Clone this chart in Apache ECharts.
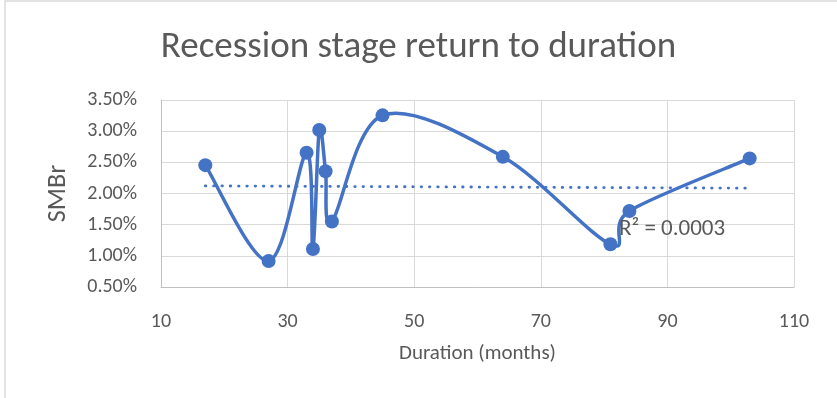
<!DOCTYPE html>
<html>
<head>
<meta charset="utf-8">
<script src="https://cdn.jsdelivr.net/npm/echarts@6/dist/echarts.min.js"></script>
<style>
  html, body { margin: 0; padding: 0; background: #ffffff; }
  #chart { width: 837px; height: 398px; }
</style>
</head>
<body>
<div id="chart"></div>
<script>
// Recession stages: length in months and SMBr return (percent)
const durationMonths = [17, 27, 33, 34, 35, 36, 37, 45, 64, 81, 84, 103];
const smbrReturn = [2.455, 0.916, 2.653, 1.11, 3.018, 2.358, 1.55, 3.254, 2.588, 1.185, 1.72, 2.563];

// Linear trendline end points (percent)
const trendMonths = [17, 103];
const trendReturn = [2.122, 2.085];

// Axis ranges and tick steps
const xRange = [10, 110];
const xStep = 20;
const yRange = [0.5, 3.5];
const yStep = 0.5;

const chartTitle = 'Recession stage return to duration';
const xAxisTitle = 'Duration (months)';
const yAxisTitle = 'SMBr';
const rSquaredLabel = 'R² = 0.0003';

const FONT = 'Carlito, Calibri, Lato, sans-serif';
const TEXT = '#595959';
const BLUE = '#4472C4';

// Cardinal (Catmull-Rom style) bezier through pixel points
function smoothPath(pts) {
  let d = 'M' + pts[0][0] + ',' + pts[0][1];
  for (let i = 0; i < pts.length - 1; i++) {
    const p0 = pts[i - 1] || pts[i];
    const p1 = pts[i];
    const p2 = pts[i + 1];
    const p3 = pts[i + 2] || p2;
    const c1 = [p1[0] + (p2[0] - p0[0]) / 6, p1[1] + (p2[1] - p0[1]) / 6];
    const c2 = [p2[0] - (p3[0] - p1[0]) / 6, p2[1] - (p3[1] - p1[1]) / 6];
    d += ' C' + c1[0] + ',' + c1[1] + ' ' + c2[0] + ',' + c2[1] + ' ' + p2[0] + ',' + p2[1];
  }
  return d;
}

const points = durationMonths.map((m, i) => [m, smbrReturn[i]]);
const trendPoints = trendMonths.map((m, i) => [m, trendReturn[i]]);

const chart = echarts.init(document.getElementById('chart'), null, { renderer: 'canvas' });

chart.setOption({
  animation: false,
  backgroundColor: '#ffffff',
  title: {
    text: chartTitle,
    left: 'center',
    top: 24,
    textStyle: { fontFamily: FONT, fontSize: 37, fontWeight: 'normal', color: TEXT }
  },
  grid: { left: 161, right: 43, top: 100, bottom: 111, containLabel: false },
  xAxis: {
    type: 'value',
    min: xRange[0],
    max: xRange[1],
    interval: xStep,
    name: xAxisTitle,
    nameLocation: 'middle',
    nameGap: 56,
    nameTextStyle: { fontFamily: FONT, fontSize: 21, color: TEXT },
    axisLine: { show: true, lineStyle: { color: '#BFBFBF', width: 1 } },
    axisTick: { show: false },
    axisLabel: { fontFamily: FONT, fontSize: 20, color: TEXT, margin: 25 },
    splitLine: { show: true, lineStyle: { color: '#D9D9D9', width: 1 } }
  },
  yAxis: {
    type: 'value',
    min: yRange[0],
    max: yRange[1],
    interval: yStep,
    name: yAxisTitle,
    nameLocation: 'middle',
    nameGap: 90,
    nameRotate: 90,
    nameTextStyle: { fontFamily: FONT, fontSize: 26, color: TEXT },
    axisLine: { show: true, lineStyle: { color: '#BFBFBF', width: 1 } },
    axisTick: { show: false },
    axisLabel: {
      fontFamily: FONT, fontSize: 20, color: TEXT, margin: 24,
      formatter: v => v.toFixed(2) + '%'
    },
    splitLine: { show: true, lineStyle: { color: '#D9D9D9', width: 1 } }
  },
  series: [
    {
      name: 'trend',
      type: 'line',
      data: trendPoints,
      symbol: 'none',
      silent: true,
      z: 1,
      lineStyle: { color: BLUE, width: 2.8, type: [0.5, 7.8], cap: 'round' }
    },
    {
      name: 'curve',
      type: 'custom',
      coordinateSystem: 'cartesian2d',
      data: points,
      encode: { x: 0, y: 1 },
      z: 2,
      silent: true,
      renderItem: function (params, api) {
        if (params.dataIndex !== 0) return null;
        const pts = points.map(p => api.coord(p));
        return {
          type: 'path',
          shape: { pathData: smoothPath(pts) },
          style: { fill: 'none', stroke: BLUE, lineWidth: 3.5, lineCap: 'round', lineJoin: 'round' }
        };
      }
    },
    {
      name: 'SMBr',
      type: 'scatter',
      data: points,
      symbol: 'circle',
      symbolSize: 14,
      z: 3,
      itemStyle: { color: BLUE, opacity: 1 }
    }
  ],
  graphic: [
    {
      type: 'rect',
      z: -1,
      silent: true,
      shape: { x: 5, y: 1, width: 840, height: 410 },
      style: { fill: 'none', stroke: '#D9D9D9', lineWidth: 1.5 }
    },
    {
      type: 'text',
      z: 100,
      left: 619,
      top: 218,
      silent: true,
      style: { text: rSquaredLabel, fontFamily: FONT, fontSize: 23, fill: TEXT }
    }
  ]
});
</script>
</body>
</html>
